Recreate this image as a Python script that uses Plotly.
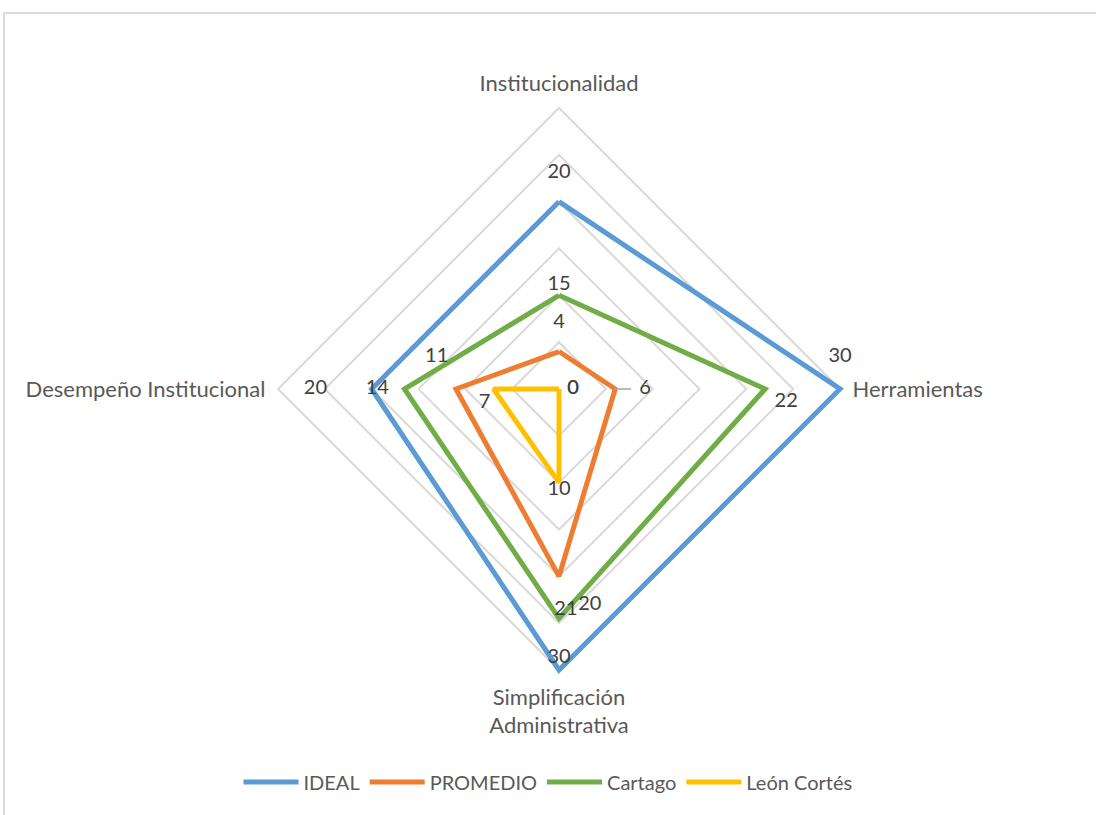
import plotly.graph_objects as go

# radar data
categories = ["Institucionalidad", "Herramientas", "Simplificación<br>Administrativa", "Desempeño Institucional"]
series_names = ["IDEAL", "PROMEDIO", "Cartago", "León Cortés"]
ideal = [20, 30, 30, 20]
promedio = [4, 6, 20, 11]
cartago = [10, 22, 24.5, 16.5]
leon_cortes = [0, 0, 10, 7]

# data label texts as printed on the chart
ideal_text = ["20", "30", "30", "20"]
promedio_text = ["4", "6", "20", "11"]
cartago_text = ["15", "22", "21", "14"]
leon_cortes_text = ["0", "0", "10", "7"]

colors = ["#5B9BD5", "#ED7D31", "#70AD47", "#FFC000"]

# where each data label sits (radius, angle in degrees clockwise from top) on a hidden overlay
label_r = [
    [23.1, 30.2, 28.7, 26.0],
    [7.0, 9.2, 23.3, 13.5],
    [11.1, 24.3, 23.6, 19.4],
    [1.5, 1.5, 10.8, 8.1],
]
label_theta = [
    [0, 83.5, 180, 270],
    [0, 90, 171.9, 284.7],
    [0, 93.3, 178.2, 270],
    [90, 90, 180, 259.3],
]

values = [ideal, promedio, cartago, leon_cortes]
texts = [ideal_text, promedio_text, cartago_text, leon_cortes_text]

FONT = "Lato"
RMAX = 30.6  # a bit past 30 so the outer series stroke is not clipped
fig = go.Figure()

for name, vals, color in zip(series_names, values, colors):
    fig.add_trace(go.Scatterpolar(
        r=vals + vals[:1], theta=categories + categories[:1],
        mode="lines", name=name, cliponaxis=False,
        line=dict(color=color, width=5, shape="linear"),
        subplot="polar", hoverinfo="skip",
    ))

for txt, rr, tt in zip(texts, label_r, label_theta):
    fig.add_trace(go.Scatterpolar(
        r=rr, theta=tt, mode="text", text=txt, showlegend=False, cliponaxis=False,
        textfont=dict(family=FONT, size=20, color="#404040"),
        subplot="polar2", hoverinfo="skip",
    ))

# leader line of the "6" label
fig.add_trace(go.Scatterpolar(
    r=[5.9, 7.7], theta=[90, 90], mode="lines", showlegend=False,
    line=dict(color="#A6A6A6", width=1.5), subplot="polar2", hoverinfo="skip",
))

cx, cy, R = 559, 389, 281 * RMAX / 30
W, H = 1096, 815
dom = dict(x=[(cx - R) / W, (cx + R) / W], y=[1 - (cy + R) / H, 1 - (cy - R) / H])

fig.update_layout(
    width=W, height=H,
    margin=dict(l=0, r=0, t=0, b=0),
    paper_bgcolor="white",
    font=dict(family=FONT, size=20, color="#595959"),
    polar=dict(
        domain=dom, gridshape="linear", bgcolor="rgba(0,0,0,0)",
        radialaxis=dict(range=[0, RMAX], tickvals=[5, 10, 15, 20, 25, 30], showticklabels=False,
                        ticks="", showline=False, gridcolor="#D9D9D9", gridwidth=1.5),
        angularaxis=dict(rotation=90, direction="clockwise", showgrid=False, showline=False,
                         ticks="outside", ticklen=2, tickcolor="rgba(0,0,0,0)",
                         tickfont=dict(family=FONT, size=22, color="#595959")),
    ),
    polar2=dict(
        domain=dom, bgcolor="rgba(0,0,0,0)",
        radialaxis=dict(range=[0, RMAX], visible=False),
        angularaxis=dict(rotation=90, direction="clockwise", visible=False),
    ),
    legend=dict(orientation="h", x=0.5, xanchor="center", y=1 - 782 / H, yanchor="middle",
                font=dict(family=FONT, size=20, color="#595959"), itemwidth=55,
                tracegroupgap=0),
    shapes=[dict(type="rect", xref="paper", yref="paper",
                 x0=4 / W, x1=1.02, y0=-0.02, y1=1 - 13 / H,
                 line=dict(color="#D9D9D9", width=2))],
)

fig.write_html("out.html", config={"displayModeBar": False},
               post_script="document.body.style.margin='0';")
